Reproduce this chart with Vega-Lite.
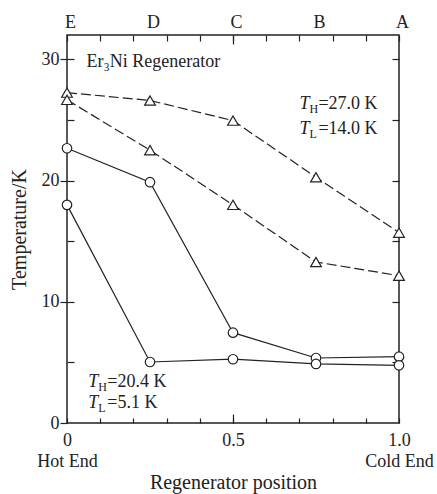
{
  "$schema": "https://vega.github.io/schema/vega-lite/v6.json",
  "width": 332,
  "height": 388,
  "autosize": {"type": "none"},
  "padding": {"left": 67, "top": 35, "right": 38, "bottom": 71},
  "background": "white",
  "datasets": {
    "curves": [
      {"s": "d1", "kind": "dashed", "x": 0, "y": 27.25},
      {"s": "d1", "kind": "dashed", "x": 0.25, "y": 26.6},
      {"s": "d1", "kind": "dashed", "x": 0.5, "y": 24.94},
      {"s": "d1", "kind": "dashed", "x": 0.75, "y": 20.27},
      {"s": "d1", "kind": "dashed", "x": 1, "y": 15.7},
      {"s": "d2", "kind": "dashed", "x": 0, "y": 26.65},
      {"s": "d2", "kind": "dashed", "x": 0.25, "y": 22.5},
      {"s": "d2", "kind": "dashed", "x": 0.5, "y": 17.99},
      {"s": "d2", "kind": "dashed", "x": 0.75, "y": 13.28},
      {"s": "d2", "kind": "dashed", "x": 1, "y": 12.15},
      {"s": "s1", "kind": "solid", "x": 0, "y": 22.66},
      {"s": "s1", "kind": "solid", "x": 0.25, "y": 19.86},
      {"s": "s1", "kind": "solid", "x": 0.5, "y": 7.45},
      {"s": "s1", "kind": "solid", "x": 0.75, "y": 5.36},
      {"s": "s1", "kind": "solid", "x": 1, "y": 5.47},
      {"s": "s2", "kind": "solid", "x": 0, "y": 17.99},
      {"s": "s2", "kind": "solid", "x": 0.25, "y": 5.03},
      {"s": "s2", "kind": "solid", "x": 0.5, "y": 5.26},
      {"s": "s2", "kind": "solid", "x": 0.75, "y": 4.87},
      {"s": "s2", "kind": "solid", "x": 1, "y": 4.76}
    ],
    "notes": [
      {"x": 0.70, "y": 25.89, "sub": "H", "rest": "=27.0 K"},
      {"x": 0.70, "y": 23.85, "sub": "L", "rest": "=14.0 K"},
      {"x": 0.064, "y": 3.0, "sub": "H", "rest": "=20.4 K"},
      {"x": 0.064, "y": 1.24, "sub": "L", "rest": "=5.1 K"}
    ],
    "title": [
      {"label": "Er₃Ni Regenerator", "x": 0.059, "y": 29.4}
    ]
  },
  "layer": [
    {
      "data": {"name": "curves"},
      "transform": [{"filter": "datum.kind == 'dashed'"}],
      "mark": {"type": "line", "color": "#222", "strokeWidth": 1.2, "strokeDash": [10, 4]},
      "encoding": {
        "x": {"field": "x", "type": "quantitative", "scale": {"domain": [0, 1], "nice": false},
          "axis": {"orient": "bottom", "title": "Regenerator position", "titlePadding": 2,
            "values": [0, 0.1, 0.2, 0.3, 0.4, 0.5, 0.6, 0.7, 0.8, 0.9, 1],
            "tickSize": -5, "labelPadding": 13, "labelLineHeight": 21, "labelBaseline": "top",
            "labelFlush": false, "labelOverlap": false, "labelBound": false,
            "labelExpr": "abs(datum.value) < 0.001 ? ['0', 'Hot End'] : (abs(datum.value - 0.5) < 0.001 ? '0.5' : (abs(datum.value - 1) < 0.001 ? ['1.0', 'Cold End'] : ''))"}},
        "y": {"field": "y", "type": "quantitative", "scale": {"domain": [0, 32], "nice": false, "zero": true},
          "axis": {"orient": "left", "title": "Temperature/K", "titlePadding": 12,
            "values": [0, 10, 20, 30], "tickSize": 7, "labelPadding": 1, "labelOverlap": false, "labelBound": false}},
        "detail": {"field": "s"}
      }
    },
    {
      "data": {"name": "curves"},
      "transform": [{"filter": "datum.kind == 'solid'"}],
      "mark": {"type": "line", "color": "#222", "strokeWidth": 1.2},
      "encoding": {
        "x": {"field": "x", "type": "quantitative", "scale": {"domain": [0, 1], "nice": false},
          "axis": {"orient": "top", "title": null, "labels": false,
            "values": [0, 0.1, 0.2, 0.3, 0.4, 0.5, 0.6, 0.7, 0.8, 0.9, 1], "tickSize": -6}},
        "y": {"field": "y", "type": "quantitative", "scale": {"domain": [0, 32], "nice": false, "zero": true},
          "axis": {"orient": "right", "title": null, "labels": false,
            "values": [5, 10, 15, 20, 25, 30], "tickSize": -7}},
        "detail": {"field": "s"}
      }
    },
    {
      "data": {"name": "curves"},
      "transform": [{"filter": "datum.kind == 'dashed'"}],
      "mark": {"type": "point", "shape": "triangle-up", "size": 115, "fill": "white", "stroke": "#222", "strokeWidth": 1.2, "opacity": 1, "filled": false},
      "encoding": {
        "x": {"field": "x", "type": "quantitative", "scale": {"domain": [0, 1], "nice": false},
          "axis": {"orient": "top", "title": null, "ticks": false, "tickSize": 0, "labelPadding": 4, "labelOffset": 3,
            "values": [0, 0.25, 0.5, 0.75, 1], "labelFlush": false, "labelOverlap": false, "labelBound": false,
            "labelExpr": "datum.value < 0.1 ? 'E' : (datum.value < 0.3 ? 'D' : (datum.value < 0.6 ? 'C' : (datum.value < 0.8 ? 'B' : 'A')))"}},
        "y": {"field": "y", "type": "quantitative", "scale": {"domain": [0, 32], "nice": false, "zero": true},
          "axis": {"orient": "left", "title": null, "labels": false,
            "values": [5, 10, 15, 20, 25, 30], "tickSize": -7}}
      }
    },
    {
      "data": {"name": "curves"},
      "transform": [{"filter": "datum.kind == 'solid'"}],
      "mark": {"type": "point", "shape": "circle", "size": 90, "fill": "white", "stroke": "#222", "strokeWidth": 1.2, "opacity": 1, "filled": false},
      "encoding": {
        "x": {"field": "x", "type": "quantitative", "scale": {"domain": [0, 1], "nice": false},
          "axis": {"orient": "bottom", "title": null, "labels": false, "values": [0.5], "tickSize": -9}},
        "y": {"field": "y", "type": "quantitative", "scale": {"domain": [0, 32], "nice": false, "zero": true}, "axis": null}
      }
    },
    {
      "data": {"name": "title"},
      "mark": {"type": "text", "font": "Liberation Serif", "fontSize": 18, "align": "left", "baseline": "alphabetic", "color": "#222"},
      "encoding": {
        "x": {"field": "x", "type": "quantitative", "scale": {"domain": [0, 1], "nice": false},
          "axis": {"orient": "top", "title": null, "labels": false, "values": [0.5], "tickSize": -9}},
        "y": {"field": "y", "type": "quantitative", "scale": {"domain": [0, 32], "nice": false, "zero": true}, "axis": null},
        "text": {"field": "label"}
      }
    },
    {
      "data": {"name": "notes"},
      "mark": {"type": "text", "text": "T", "font": "Liberation Serif", "fontStyle": "italic", "fontSize": 18, "align": "left", "baseline": "alphabetic", "color": "#222"},
      "encoding": {
        "x": {"field": "x", "type": "quantitative", "scale": {"domain": [0, 1], "nice": false}, "axis": null},
        "y": {"field": "y", "type": "quantitative", "scale": {"domain": [0, 32], "nice": false, "zero": true}, "axis": null}
      }
    },
    {
      "data": {"name": "notes"},
      "mark": {"type": "text", "font": "Liberation Serif", "fontSize": 12, "align": "left", "baseline": "alphabetic", "dx": 10, "dy": 4, "color": "#222"},
      "encoding": {
        "x": {"field": "x", "type": "quantitative", "scale": {"domain": [0, 1], "nice": false}, "axis": null},
        "y": {"field": "y", "type": "quantitative", "scale": {"domain": [0, 32], "nice": false, "zero": true}, "axis": null},
        "text": {"field": "sub"}
      }
    },
    {
      "data": {"name": "notes"},
      "mark": {"type": "text", "font": "Liberation Serif", "fontSize": 18, "align": "left", "baseline": "alphabetic", "dx": 19, "color": "#222"},
      "encoding": {
        "x": {"field": "x", "type": "quantitative", "scale": {"domain": [0, 1], "nice": false}, "axis": null},
        "y": {"field": "y", "type": "quantitative", "scale": {"domain": [0, 32], "nice": false, "zero": true}, "axis": null},
        "text": {"field": "rest"}
      }
    }
  ],
  "resolve": {"axis": {"x": "independent", "y": "independent"}},
  "config": {
    "view": {"stroke": "#222", "strokeWidth": 1.5},
    "axis": {"domain": false, "grid": false, "tickColor": "#222", "tickWidth": 1.2, "labelColor": "#222", "titleColor": "#222",
      "labelFont": "Liberation Serif", "titleFont": "Liberation Serif", "labelFontSize": 18, "titleFontSize": 20, "titleFontWeight": "normal"}
  }
}
